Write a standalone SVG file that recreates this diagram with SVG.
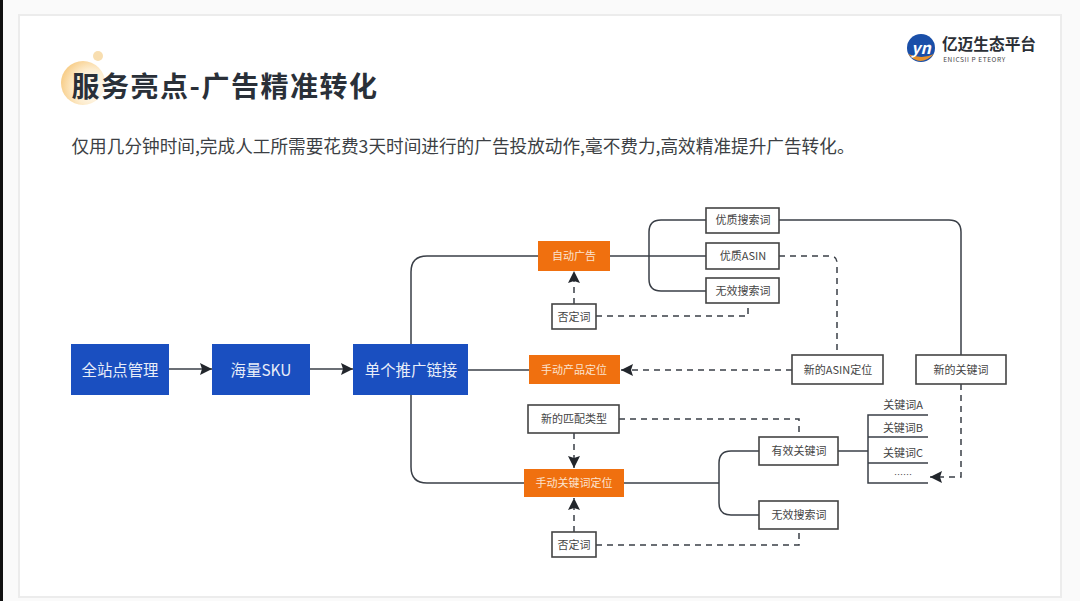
<svg xmlns="http://www.w3.org/2000/svg" width="1080" height="601" viewBox="0 0 1080 601">
<defs>
<style>
text{font-family:"Noto Sans CJK SC","Noto Sans",sans-serif;text-anchor:middle}
.blue rect{fill:#1a4fc0}
.blue text{fill:#e8edf8;font-size:15.4px}
.orange rect{fill:#f0700f}
.orange text{fill:#fbe3cf;font-size:11px}
.white rect{fill:#fff;stroke:#444;stroke-width:1.6}
.white text{fill:#444;font-size:11px}
.s{fill:none;stroke:#3a3f47;stroke-width:1.5}
.d{fill:none;stroke:#3a3f47;stroke-width:1.5;stroke-dasharray:6 5}
.lbl{fill:#444;font-size:11px}
</style>
<marker id="a" markerWidth="14" markerHeight="14" refX="12" refY="6" orient="auto" markerUnits="userSpaceOnUse"><path d="M0 0L12 6L0 12L2 6Z" fill="#22262c"/></marker>
<radialGradient id="g" cx="70%" cy="60%" r="70%"><stop offset="0" stop-color="#fff" stop-opacity="0.9"/><stop offset="0.6" stop-color="#fdeccd"/><stop offset="1" stop-color="#f8cf8c"/></radialGradient>
</defs>
<rect width="1080" height="601" fill="#fafafa"/>
<rect width="3" height="601" fill="#111"/>
<rect x="19" y="15" width="1042" height="582" fill="#fff" stroke="#ececec" stroke-width="2"/>
<g id="title-deco"><circle cx="83" cy="83" r="22" fill="url(#g)"/><circle cx="98" cy="56" r="5" fill="#f8deb0"/></g>
<text x="225" y="97" style="font-size:28px;font-weight:700;fill:#2a3038;letter-spacing:1.5px">服务亮点-广告精准转化</text>
<text x="463" y="153" style="font-size:17.65px;fill:#3c3f44">仅用几分钟时间,完成人工所需要花费3天时间进行的广告投放动作,毫不费力,高效精准提升广告转化。</text>
<g id="logo">
<circle cx="921" cy="48" r="14" fill="#1a4fa8"/>
<path d="M908 54Q920 68 934 54Q922 60 908 54Z" fill="#e8912a"/>
<text x="921" y="54" style="font-size:16px;font-weight:700;fill:#fff;font-style:italic">yn</text>
<text x="989" y="50" style="font-size:15.7px;font-weight:700;fill:#2b2f36">亿迈生态平台</text>
<text x="974.500" y="62" style="font-size:6.500px;fill:#444;letter-spacing:.6px">ENICSII P  ETEORY</text>
</g>
<g id="connectors">
<path class="s" marker-end="url(#a)" d="M169 369H212"/>
<path class="s" marker-end="url(#a)" d="M310 369H353"/>
<path class="s" d="M468 370H529"/>
<path class="s" d="M538 256H427Q411 256 411 272V344"/>
<path class="s" d="M411 395V467Q411 483 427 483H524"/>
<path class="s" d="M610 256H706"/>
<path class="s" d="M706 220H661Q649 220 649 232V279Q649 291 661 291H706"/>
<path class="s" d="M624 483H719"/>
<path class="s" d="M759 451H731Q719 451 719 463V503Q719 515 731 515H759"/>
<path class="s" d="M779 220H949Q961 220 961 232V355"/>
<path class="s" d="M838 451H868"/>
<path class="s" d="M928 415H868V483H928M868 437H928M868 463H928"/>
<path class="d" d="M779 256H830Q837 256 837 263V355"/>
<path class="d" marker-end="url(#a)" d="M792 370H621"/>
<path class="d" d="M596 316H748V304"/>
<path class="d" marker-end="url(#a)" d="M574 304V271"/>
<path class="d" marker-end="url(#a)" d="M574 433V468"/>
<path class="d" marker-end="url(#a)" d="M574 532V498"/>
<path class="d" d="M619 419H799V437"/>
<path class="d" d="M596 545H799V529"/>
<path class="d" marker-end="url(#a)" d="M961 384V477H930"/>
</g>
<g id="n1" class="blue"><rect x="71" y="344" width="98" height="51"/><text x="120" y="376">全站点管理</text></g>
<g id="n2" class="blue"><rect x="212" y="344" width="98" height="51"/><text x="261" y="376">海量SKU</text></g>
<g id="n3" class="blue"><rect x="353" y="344" width="115" height="51"/><text x="411" y="376">单个推广链接</text></g>
<g id="n4" class="orange"><rect x="538" y="241" width="72" height="30"/><text x="574" y="260">自动广告</text></g>
<g id="n5" class="orange"><rect x="529" y="355" width="91" height="29"/><text x="574" y="374">手动产品定位</text></g>
<g id="n6" class="orange"><rect x="524" y="469" width="100" height="28"/><text x="574" y="487">手动关键词定位</text></g>
<g id="n7" class="white"><rect x="706" y="208" width="73" height="25"/><text x="743" y="224">优质搜索词</text></g>
<g id="n8" class="white"><rect x="706" y="243" width="73" height="26"/><text x="743" y="260">优质ASIN</text></g>
<g id="n9" class="white"><rect x="706" y="278" width="73" height="25"/><text x="743" y="295">无效搜索词</text></g>
<g id="n10" class="white"><rect x="552" y="304" width="44" height="25"/><text x="574" y="321">否定词</text></g>
<g id="n11" class="white"><rect x="792" y="355" width="91" height="29"/><text x="838" y="374">新的ASIN定位</text></g>
<g id="n12" class="white"><rect x="916" y="355" width="90" height="29"/><text x="961" y="374">新的关键词</text></g>
<g id="n13" class="white"><rect x="528" y="405" width="91" height="28"/><text x="574" y="423">新的匹配类型</text></g>
<g id="n14" class="white"><rect x="759" y="437" width="79" height="28"/><text x="799" y="455">有效关键词</text></g>
<g id="n15" class="white"><rect x="759" y="501" width="79" height="28"/><text x="799" y="519">无效搜索词</text></g>
<g id="n16" class="white"><rect x="552" y="532" width="44" height="25"/><text x="574" y="549">否定词</text></g>
<g id="list">
<text class="lbl" x="903" y="409">关键词A</text>
<text class="lbl" x="903" y="432">关键词B</text>
<text class="lbl" x="903" y="457">关键词C</text>
<text class="lbl" x="903" y="478" style="font-size:9px">……</text>
</g>
</svg>
